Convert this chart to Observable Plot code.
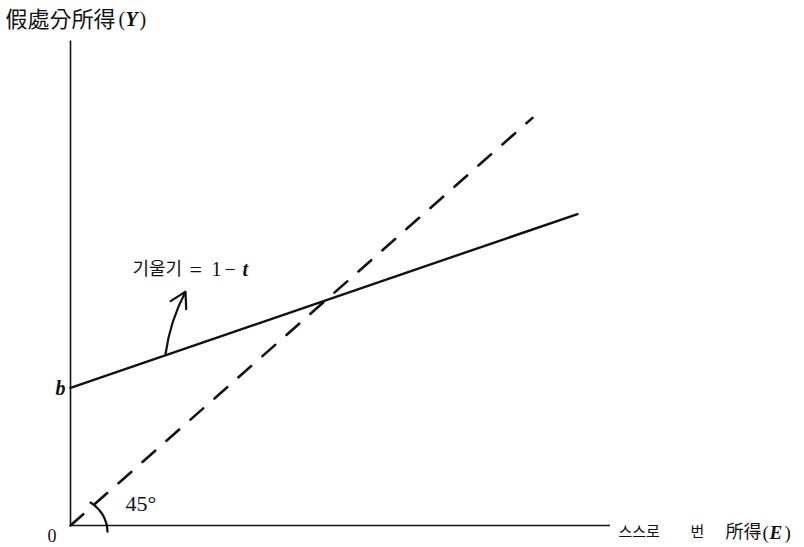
<!DOCTYPE html>
<html><head><meta charset="utf-8">
<script src="https://cdn.jsdelivr.net/npm/d3@7"></script>
<script src="https://cdn.jsdelivr.net/npm/@observablehq/plot@0.6"></script>
<style>html,body{margin:0;padding:0;background:#fff}svg{display:block}</style>
</head><body><div id="chart"></div>
<script>
// After-tax (disposable) income line: Y = b + (1 - t) E
const afterTaxE = [0, 507];
const afterTaxY = [156, 353];
// 45° reference line: Y = E
const diagonalE = [0, 462];
const diagonalY = [0, 462];
// Axis extents
const yAxisTop = 549;
const xAxisEnd = 540;

const afterTax = afterTaxE.map((e, i) => ({e, y: afterTaxY[i]}));
const diagonal = diagonalE.map((e, i) => ({e, y: diagonalY[i]}));

const serif = "'Liberation Serif','DejaVu Serif',serif";
const cjk = "'Noto Sans CJK KR','Noto Sans CJK SC',sans-serif";
const ink = "#111";

function label(text, x, y, size, family, extra = {}) {
  return Plot.text([{text, x, y}], {
    x: "x", y: "y", text: "text", textAnchor: "start",
    fontSize: size, fontFamily: family, fill: ink, ...extra
  });
}

const chart = Plot.plot({
  width: 804, height: 547,
  marginLeft: 70, marginRight: 0, marginTop: 0, marginBottom: 22,
  x: {domain: [0, 734], axis: null},
  y: {domain: [0, 595], axis: null},
  style: {background: "#fff", color: ink, overflow: "visible"},
  marks: [
    Plot.ruleX([0], {y1: 0, y2: yAxisTop, stroke: ink, strokeWidth: 1.6}),
    Plot.ruleY([0], {x1: 0, x2: xAxisEnd, stroke: ink, strokeWidth: 1.6}),
    Plot.line(diagonal, {x: "e", y: "y", stroke: ink, strokeWidth: 2.6, strokeDasharray: "17,15"}),
    Plot.line(afterTax, {x: "e", y: "y", stroke: ink, strokeWidth: 2.4}),
    Plot.arrow([{x1: 95, y1: 194, x2: 115, y2: 265}], {
      x1: "x1", y1: "y1", x2: "x2", y2: "y2", bend: 10, headLength: 12,
      stroke: ink, strokeWidth: 2.2
    }),
    Plot.arrow([{x1: 20, y1: 26, x2: 37, y2: -7}], {
      x1: "x1", y1: "y1", x2: "x2", y2: "y2", bend: 29, headLength: 0,
      stroke: ink, strokeWidth: 2.2
    }),
    // Title (y axis)
    label("假處分所得", -65, 573, 22, cjk),
    label("(", 48, 573, 20, serif),
    label("Y", 55, 573, 20, serif, {fontStyle: "italic", fontWeight: "bold"}),
    label(")", 69, 573, 20, serif),
    // origin and intercept
    label("0", -23, -12, 18, serif),
    label("b", -15, 155, 20, serif, {fontStyle: "italic", fontWeight: "bold"}),
    // 45 degrees
    label("45°", 55, 24, 22, serif),
    // slope label
    label("기울기", 62, 290, 18, cjk),
    label("=", 119, 290, 22, serif),
    label("1", 141, 290, 20, serif),
    label("−", 154, 290, 20, serif),
    label("t", 172, 290, 20, serif, {fontStyle: "italic", fontWeight: "bold"}),
    // x axis label
    label("스스로", 548, -8, 15, cjk),
    label("번", 620, -8, 15, cjk),
    label("所得", 655, -8, 18, cjk),
    label("(", 692, -8, 19, serif),
    label("E", 699, -8, 19, serif, {fontStyle: "italic", fontWeight: "bold"}),
    label(")", 714, -8, 19, serif)
  ]
});
document.getElementById("chart").appendChild(chart);
</script>
</body></html>
